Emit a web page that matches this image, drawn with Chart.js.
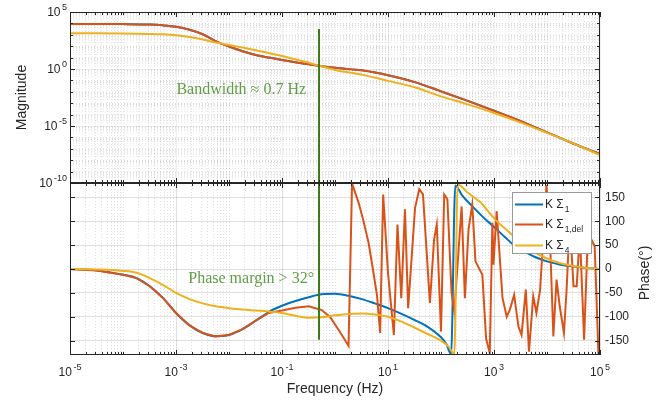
<!DOCTYPE html>
<html>
<head>
<meta charset="utf-8">
<script src="https://cdn.jsdelivr.net/npm/chart.js@4.4.1/dist/chart.umd.min.js"></script>
<style>
  html, body { margin: 0; padding: 0; background: #fff; }
  #wrap { position: relative; width: 667px; height: 402px; }
  #wrap canvas { position: absolute; left: 0; top: 0; }
</style>
</head>
<body>
<div id="wrap">
  <canvas id="phaseChart" width="667" height="402"></canvas>
  <canvas id="magChart" width="667" height="402"></canvas>
</div>
<script>
// Magnitude (common frequency grid, Hz)
const magFreq = [1e-5, 3.2e-5, 1e-4, 3.2e-4, 5.6e-4, 1e-3, 1.8e-3, 3.2e-3, 5.6e-3, 1e-2, 1.8e-2, 3.2e-2, 5.6e-2,
                 0.1, 0.32, 1, 3.2, 10, 32, 100, 320, 1e3, 3.2e3, 1e4, 3.2e4, 1e5];
const magK1 = [8.9e3, 8.9e3, 8.7e3, 7.9e3, 6.8e3, 5.1e3, 2.8e3, 1.12e3, 280, 93, 36, 17, 10,
               6.2, 2.6, 1.26, 0.76, 0.28, 0.071, 0.011, 1.6e-3, 2.2e-4, 2.7e-5, 2.8e-6, 2.8e-7, 3.5e-8];
const magK1del = magK1; // same magnitude, only the phase differs
const magK4 = [1.35e3, 1.35e3, 1.32e3, 1.2e3, 1.1e3, 910, 630, 380, 210, 130, 76, 45, 25,
               14, 3.5, 0.83, 0.32, 0.091, 0.025, 4.0e-3, 7.9e-4, 1.4e-4, 2.0e-5, 2.5e-6, 2.8e-7, 2.8e-8];

// Phase (degrees)
const phFreqK1 = [1e-5, 3.2e-5, 1e-4, 1.8e-4, 3.2e-4, 5.6e-4, 1e-3, 1.8e-3, 3.2e-3, 5.6e-3, 0.01, 0.018, 0.032, 0.056,
                  0.1, 0.18, 0.32, 0.56, 1, 1.8, 3.2, 5.6, 10, 18, 32, 56, 100, 126, 155,
                  186, 250, 400, 630, 1e3, 1600, 2500, 4000, 6300, 1e4, 1.8e4, 3.2e4, 5.6e4, 1e5];
const phK1 = [0, -3, -12, -19, -36, -60, -92, -118, -134, -141, -138, -126, -108, -90,
              -77, -67, -59, -53, -52, -56, -63, -72, -82, -94, -107, -121, -143, -157, -178,
              175, 154, 130, 108, 88, 67, 48, 35, 24, 16, 9, 5, 2, 0];

const phFreqK4 = [1e-5, 3.2e-5, 1e-4, 1.8e-4, 3.2e-4, 5.6e-4, 1e-3, 1.8e-3, 3.2e-3, 5.6e-3, 0.01, 0.018, 0.032, 0.056,
                  0.1, 0.18, 0.32, 0.56, 1, 1.8, 3.2, 5.6, 10, 18, 32, 56, 100, 140, 178,
                  207, 316, 560, 1e3, 1800, 3200, 5600, 1e4, 1.8e4, 3.2e4, 5.6e4, 1e5];
const phK4 = [0, -1, -4, -8, -19, -33, -50, -63, -72, -78, -82, -85, -87, -89,
              -92, -98, -102, -101, -97, -94, -93, -95, -100, -110, -123, -136, -150, -163, -178,
              177, 160, 139, 106, 80, 56, 36, 22, 12, 6, 2, 0];

const phFreqDel = [1e-5, 3.2e-5, 1e-4, 1.8e-4, 3.2e-4, 5.6e-4, 1e-3, 1.8e-3, 3.2e-3, 5.6e-3, 0.01, 0.018, 0.032, 0.056,
                   0.1, 0.18, 0.32, 0.56, 0.8, 1.26, 1.8, 2.1, 2.8, 3.4, 4.3, 5.2, 6.2, 7.1, 8.1,
                   10, 12.9, 15.1, 17.8, 20.9, 24, 32.4, 38.9, 45.7, 61.7, 74.1, 83.2,
                   100, 115, 132, 158, 178, 245, 282, 331, 389, 447, 603, 708, 832, 933, 977, 1122,
                   1445, 1738, 1995, 2399, 2884, 3311, 3981, 4571, 5495, 6310, 7413,
                   9772, 11220, 13180, 15140, 17380, 20890, 23440, 26920, 31620, 36310, 41690,
                   50120, 58880, 66070, 79430, 93330, 1e5];
const phDel = [0, -3, -12, -19, -36, -60, -92, -118, -134, -141, -138, -126, -108, -92,
               -87, -81, -78, -86, -100, -133, -161, 179, 138, 103, 55, -1, -55, -134, 156,
               -8, -138, 93, -61, 125, -82, 128, 167, 156, -71, 62, 93,
               -131, 156, 146, -50, -89, 131, -61, 83, 135, 16, -12, -145, -176, 97, 9, 121,
               -60, -100, -85, -54, -120, -138, -43, -173, -57, -92, -43,
               175, 83, -141, -22, -78, -134, -43, 103, -36, -36, 76,
               -148, 69, 66, 47, -176, -178];

// Bandwidth marker
const bwFreq = 0.5;
const bwMagSpan = [3.2e3, 1e-10];
const bwPhaseSpan = [180, -148];

// Axis ticks
const freqMajor = [1e-5, 1e-3, 1e-1, 1e1, 1e3, 1e5];
const magMajor = [1e-10, 1e-5, 1e0, 1e5];
const phaseTicks = [-150, -100, -50, 0, 50, 100, 150];

const FONT = "'Liberation Sans', Arial, Helvetica, sans-serif";
const SERIF = "'Liberation Serif', 'Times New Roman', serif";
const INK = '#262626';
const colors = {
  k1: '#0072BD',
  del: '#D95319',
  k4: '#EDB120',
  bw: '#3a7a10',
  note: '#5f9e45'
};

function logTicks(e0, e1, mults, skip) {
  const out = [];
  for (let e = e0; e <= e1; e++) {
    mults.forEach(m => {
      const v = m * Math.pow(10, e);
      if (!skip.some(s => Math.abs(Math.log10(s) - Math.log10(v)) < 1e-9)) out.push(v);
    });
  }
  return out;
}
const freqMinor = logTicks(-5, 4, [1, 2, 3, 4, 5, 6, 7, 8, 9], freqMajor);
const magMinor = logTicks(-10, 4, [1, 2, 3, 4, 5, 6, 7, 8, 9], magMajor);
const magDecades = logTicks(-10, 5, [1], magMajor);

const pts = (xs, ys) => xs.map((x, i) => ({ x: x, y: ys[i] }));

function setTicks(values) {
  return scale => { scale.ticks = values.map(v => ({ value: v })); };
}

// "10" with a raised exponent
function drawPow(ctx, exp, x, y, align) {
  ctx.save();
  ctx.fillStyle = INK;
  ctx.textBaseline = 'middle';
  ctx.textAlign = 'left';
  ctx.font = '12px ' + FONT;
  const wBase = ctx.measureText('10').width;
  ctx.font = '9px ' + FONT;
  const wExp = ctx.measureText(exp).width;
  const total = wBase + 1.5 + wExp;
  const x0 = align === 'right' ? x - total : x - total / 2;
  ctx.font = '12px ' + FONT;
  ctx.fillText('10', x0, y + 1);
  ctx.font = '9px ' + FONT;
  ctx.fillText(exp, x0 + wBase + 1.5, y - 4);
  ctx.restore();
}

// inward tick marks on all four sides
function drawTickMarks(ctx, area, scale, values, len, horizontal) {
  ctx.save();
  ctx.strokeStyle = INK;
  ctx.lineWidth = 1;
  ctx.beginPath();
  values.forEach(v => {
    const p = Math.round(scale.getPixelForValue(v)) + 0.5;
    if (horizontal) {
      ctx.moveTo(p, area.bottom); ctx.lineTo(p, area.bottom - len);
      ctx.moveTo(p, area.top); ctx.lineTo(p, area.top + len);
    } else {
      ctx.moveTo(area.left, p); ctx.lineTo(area.left + len, p);
      ctx.moveTo(area.right, p); ctx.lineTo(area.right - len, p);
    }
  });
  ctx.stroke();
  ctx.restore();
}

function drawFrame(ctx, area) {
  ctx.save();
  ctx.strokeStyle = INK;
  ctx.lineWidth = 1;
  ctx.strokeRect(area.left + 0.5, area.top + 0.5, area.right - area.left - 1, area.bottom - area.top - 1);
  ctx.restore();
}

function baseOptions() {
  return {
    responsive: false,
    animation: false,
    events: [],
    plugins: { legend: { display: false }, tooltip: { enabled: false } },
    elements: { point: { radius: 0 }, line: { borderWidth: 2 } }
  };
}

function freqScales(majorColor, minorColor, extra) {
  return Object.assign({
    x: {
      type: 'logarithmic', min: 1e-5, max: 1e5, position: 'bottom',
      afterBuildTicks: setTicks(freqMajor),
      ticks: { display: false },
      grid: { color: majorColor, drawTicks: false },
      border: { display: false }
    },
    xMinor: {
      type: 'logarithmic', min: 1e-5, max: 1e5, position: 'bottom',
      afterBuildTicks: setTicks(freqMinor),
      ticks: { display: false },
      grid: { color: minorColor, drawTicks: false },
      border: { display: false, dash: [1, 2] },
      afterFit: s => { s.height = 0; }
    }
  }, extra);
}

// ---------- Magnitude ----------
const magOpts = baseOptions();
magOpts.layout = { padding: { left: 0, top: 12, right: 67, bottom: 219 } };
magOpts.scales = freqScales('rgba(38,38,38,0.07)', 'rgba(38,38,38,0.13)', {
  y: {
    type: 'logarithmic', min: 1e-10, max: 1e5, position: 'left',
    afterBuildTicks: setTicks(magMajor),
    ticks: { display: false },
    grid: { color: 'rgba(38,38,38,0.07)', drawTicks: false },
    border: { display: false },
    title: { display: true, text: 'Magnitude', color: INK, font: { family: FONT, size: 14 }, padding: { top: 14, bottom: 0 } },
    afterFit: s => { s.width = 70; }
  },
  yMinor: {
    type: 'logarithmic', min: 1e-10, max: 1e5, position: 'left',
    afterBuildTicks: setTicks(magMinor),
    ticks: { display: false },
    grid: { color: 'rgba(38,38,38,0.09)', drawTicks: false },
    border: { display: false, dash: [1, 2] },
    afterFit: s => { s.width = 0; }
  }
});
magOpts.scales.x.afterFit = s => { s.height = 0; };

const magDecor = {
  id: 'magDecor',
  afterDatasetsDraw(chart) {
    const { ctx, chartArea: area } = chart;
    const x = chart.scales.x, y = chart.scales.y;
    drawFrame(ctx, area);
    drawTickMarks(ctx, area, x, freqMajor, 5, true);
    drawTickMarks(ctx, area, x, freqMinor, 3, true);
    drawTickMarks(ctx, area, y, magMajor, 5, false);
    drawTickMarks(ctx, area, y, magDecades, 3, false);
    magMajor.forEach(v => {
      drawPow(ctx, String(Math.round(Math.log10(v))), area.left - 3, y.getPixelForValue(v), 'right');
    });
    ctx.save();
    ctx.fillStyle = colors.note;
    ctx.font = '16px ' + SERIF;
    ctx.textAlign = 'right';
    ctx.textBaseline = 'middle';
    ctx.fillText('Bandwidth \u2248 0.7 Hz', x.getPixelForValue(bwFreq) - 13, y.getPixelForValue(1.4e-2));
    ctx.restore();
  }
};

new Chart(document.getElementById('magChart'), {
  type: 'line',
  data: {
    datasets: [
      { label: 'K \u03a3_1', data: pts(magFreq, magK1), borderColor: colors.k1, cubicInterpolationMode: 'monotone', order: 4 },
      { label: 'K \u03a3_1,del', data: pts(magFreq, magK1del), borderColor: colors.del, cubicInterpolationMode: 'monotone', order: 3 },
      { label: 'K \u03a3_4', data: pts(magFreq, magK4), borderColor: colors.k4, cubicInterpolationMode: 'monotone', order: 2 },
      { label: 'bandwidth', data: [{ x: bwFreq, y: bwMagSpan[0] }, { x: bwFreq, y: bwMagSpan[1] }], borderColor: colors.bw, tension: 0, order: 1 }
    ]
  },
  options: magOpts,
  plugins: [magDecor]
});

// ---------- Phase ----------
const phOpts = baseOptions();
phOpts.layout = { padding: { left: 0, top: 183, right: 0, bottom: 0 } };
phOpts.scales = freqScales('rgba(38,38,38,0.15)', 'rgba(38,38,38,0.14)', {
  y: {
    type: 'linear', min: -180, max: 180, position: 'left',
    afterBuildTicks: setTicks(phaseTicks),
    ticks: { display: false },
    grid: { color: 'rgba(38,38,38,0.15)', drawTicks: false },
    border: { display: false },
    afterFit: s => { s.width = 70; }
  },
  yR: {
    type: 'linear', min: -180, max: 180, position: 'right',
    afterBuildTicks: setTicks(phaseTicks),
    ticks: { color: INK, font: { family: FONT, size: 12 }, padding: 5 },
    grid: { drawOnChartArea: false, drawTicks: false },
    border: { display: false },
    afterFit: s => { s.width = 67; }
  }
});
phOpts.scales.x.title = { display: true, text: 'Frequency (Hz)', color: INK, font: { family: FONT, size: 14 }, padding: { top: 0, bottom: 4 } };
phOpts.scales.x.afterFit = s => { s.height = 47; };

const legendItems = [
  { color: colors.k1, sub: '1' },
  { color: colors.del, sub: '1,del' },
  { color: colors.k4, sub: '4' }
];

const phaseDecor = {
  id: 'phaseDecor',
  afterDatasetsDraw(chart) {
    const { ctx, chartArea: area } = chart;
    const x = chart.scales.x, y = chart.scales.y;
    drawFrame(ctx, area);
    drawTickMarks(ctx, area, x, freqMajor, 5, true);
    drawTickMarks(ctx, area, x, freqMinor, 3, true);
    drawTickMarks(ctx, area, y, phaseTicks, 5, false);
    freqMajor.forEach(v => {
      drawPow(ctx, String(Math.round(Math.log10(v))), x.getPixelForValue(v), area.bottom + 17, 'center');
    });

    ctx.save();
    // right axis title, read bottom-to-top
    ctx.fillStyle = INK;
    ctx.font = '14px ' + FONT;
    ctx.textAlign = 'center';
    ctx.textBaseline = 'middle';
    ctx.translate(chart.width - 22, (area.top + area.bottom) / 2 + 4);
    ctx.rotate(-Math.PI / 2);
    ctx.fillText('Phase(\u00b0)', 0, 0);
    ctx.restore();

    ctx.save();
    ctx.fillStyle = colors.note;
    ctx.font = '16px ' + SERIF;
    ctx.textAlign = 'right';
    ctx.textBaseline = 'middle';
    ctx.fillText('Phase margin > 32\u00b0', x.getPixelForValue(bwFreq) - 5, y.getPixelForValue(-21));
    ctx.restore();

    // legend box
    const bx = area.right - 88, by = area.top + 9, bw = 79, bh = 61;
    ctx.save();
    ctx.fillStyle = '#fff';
    ctx.fillRect(bx, by, bw, bh);
    ctx.strokeStyle = '#9a9a9a';
    ctx.lineWidth = 1;
    ctx.strokeRect(bx + 0.5, by + 0.5, bw, bh);
    const rows = [12.5, 32.5, 53.5];
    legendItems.forEach((it, i) => {
      const ry = by + rows[i];
      ctx.strokeStyle = it.color;
      ctx.lineWidth = 2;
      ctx.beginPath();
      ctx.moveTo(bx + 3, ry);
      ctx.lineTo(bx + 31, ry);
      ctx.stroke();
      ctx.fillStyle = INK;
      ctx.textBaseline = 'middle';
      ctx.textAlign = 'left';
      ctx.font = '12px ' + FONT;
      const label = 'K \u03a3';
      ctx.fillText(label, bx + 33, ry);
      const w = ctx.measureText(label).width;
      ctx.font = '8.5px ' + FONT;
      ctx.fillText(it.sub, bx + 34 + w, ry + 5);
    });
    ctx.restore();
  }
};

new Chart(document.getElementById('phaseChart'), {
  type: 'line',
  data: {
    datasets: [
      { label: 'K \u03a3_1', data: pts(phFreqK1, phK1), borderColor: colors.k1, cubicInterpolationMode: 'monotone', order: 4 },
      { label: 'K \u03a3_1,del', data: pts(phFreqDel, phDel), borderColor: colors.del, tension: 0, order: 3 },
      { label: 'K \u03a3_4', data: pts(phFreqK4, phK4), borderColor: colors.k4, cubicInterpolationMode: 'monotone', order: 2 },
      { label: 'bandwidth', data: [{ x: bwFreq, y: bwPhaseSpan[0] }, { x: bwFreq, y: bwPhaseSpan[1] }], borderColor: colors.bw, tension: 0, order: 1 }
    ]
  },
  options: phOpts,
  plugins: [phaseDecor]
});
</script>
</body>
</html>
